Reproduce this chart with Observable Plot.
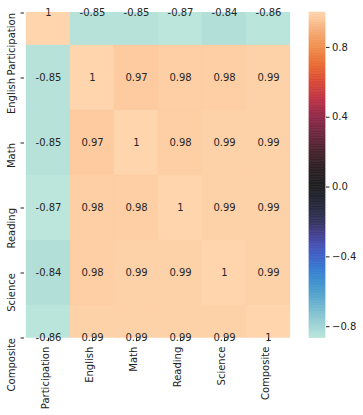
<!DOCTYPE html>
<html>
<head>
<meta charset="utf-8">
<script src="https://cdn.jsdelivr.net/npm/d3@7"></script>
<script src="https://cdn.jsdelivr.net/npm/@observablehq/plot@0.6"></script>
<style>
  html, body { margin: 0; padding: 0; background: white; }
  #wrap { position: relative; width: 363px; height: 415px; }
  #main, #cbar { position: absolute; top: 0; }
  #main { left: 0; }
  #cbar { left: 300px; }
</style>
</head>
<body>
<div id="wrap"><div id="main"></div><div id="cbar"></div></div>
<script>
// Row / column labels
const rows = ["Participation", "English", "Math", "Reading", "Science", "Composite"];
const cols = ["Participation", "English", "Math", "Reading", "Science", "Composite"];

// Correlation matrix (row by row)
const participationRow = [1, -0.85, -0.85, -0.866, -0.84, -0.86];
const englishRow       = [-0.85, 1, 0.97, 0.98, 0.98, 0.99];
const mathRow          = [-0.85, 0.97, 1, 0.98, 0.99, 0.99];
const readingRow       = [-0.866, 0.98, 0.98, 1, 0.99, 0.99];
const scienceRow       = [-0.84, 0.98, 0.99, 0.99, 1, 0.99];
const compositeRow     = [-0.86, 0.99, 0.99, 0.99, 0.99, 1];
const matrix = [participationRow, englishRow, mathRow, readingRow, scienceRow, compositeRow];

// Colour bar
const vmin = -0.866, vmax = 1;
const cbTicks = [0.8, 0.4, 0.0, -0.4, -0.8];

// icefire-like colour stops (value -> colour)
const stopValues = [-0.866, -0.8, -0.7, -0.6, -0.53, -0.47, -0.4, -0.33, -0.26, -0.2, -0.1, 0, 0.1, 0.2, 0.3, 0.4, 0.5, 0.6, 0.7, 0.8, 0.9, 0.97, 1];
const stopColors = ["#bce6db", "#a2d6d6", "#78bbcf", "#4f9fcc", "#3c8ecf", "#387bd0", "#3e63c8", "#4650b2", "#433f88", "#34365e", "#27283a", "#1f1f22", "#2b2024", "#48232e", "#6c283f", "#912a4a", "#bc3346", "#da4a37", "#e96b35", "#f08f4e", "#f6ae7a", "#fdcb9f", "#ffd5ae"];

const cells = [];
rows.forEach((r, i) => cols.forEach((c, j) => cells.push({row: r, col: c, value: matrix[i][j]})));

const colorScale = {type: "linear", domain: stopValues, range: stopColors, interpolate: "rgb", clamp: true};
const fmt = v => String(+v.toFixed(2));

const frameTop = 12, frameBottom = 337.7, H = 415;
const half = (frameBottom - frameTop) / 10;

const main = Plot.plot({
  width: 300, height: H,
  marginLeft: 24, marginRight: 8.3, marginTop: frameTop, marginBottom: H - frameBottom,
  style: {fontFamily: "DejaVu Sans, sans-serif", fontSize: "10px", background: "white", color: "#222"},
  x: {type: "band", domain: cols, padding: 0, axis: null},
  y: {type: "band", domain: rows, padding: 0, range: [frameTop - half, frameBottom + half], axis: null},
  color: colorScale,
  marks: [
    Plot.cell(cells, {x: "col", y: "row", fill: "value", stroke: "value", strokeWidth: 0.3, clip: true}),
    Plot.text(cells, {x: "col", y: "row", text: d => fmt(d.value), fill: "#262626", fontSize: 10}),
    Plot.axisY({anchor: "left", tickSize: 3.5, tickFormat: () => "", label: null}),
    Plot.axisX({anchor: "bottom", tickSize: 3.5, tickFormat: () => "", label: null}),
    Plot.text(rows, {y: d => d, text: d => d, frameAnchor: "left", dx: -12.7, rotate: -90, textAnchor: "end", fill: "#222", fontSize: 10}),
    Plot.text(cols, {x: d => d, text: d => d, frameAnchor: "bottom", dy: 8.5, rotate: -90, textAnchor: "end", fill: "#222", fontSize: 10})
  ]
});
document.getElementById("main").appendChild(main);

// gradient slices for the colour bar (legend only)
const nSlices = 200;
const slices = d3.range(nSlices).map(k => {
  const a = vmin + (vmax - vmin) * k / nSlices;
  const b = vmin + (vmax - vmin) * (k + 1) / nSlices;
  return {a, b, m: (a + b) / 2};
});

const cbar = Plot.plot({
  width: 63, height: H,
  marginLeft: 9, marginRight: 38, marginTop: frameTop, marginBottom: H - frameBottom,
  style: {fontFamily: "DejaVu Sans, sans-serif", fontSize: "10px", background: "white", color: "#222"},
  x: {domain: [0, 1], axis: null},
  y: {domain: [vmin, vmax], axis: null},
  color: colorScale,
  marks: [
    Plot.rect(slices, {x1: 0, x2: 1, y1: "a", y2: "b", fill: "m", stroke: "m", strokeWidth: 0.6}),
    Plot.axisY({anchor: "right", ticks: cbTicks, tickSize: 3.5, tickPadding: 3, tickFormat: d3.format(".1f"), label: null, fontSize: 10})
  ]
});
document.getElementById("cbar").appendChild(cbar);
</script>
</body>
</html>
